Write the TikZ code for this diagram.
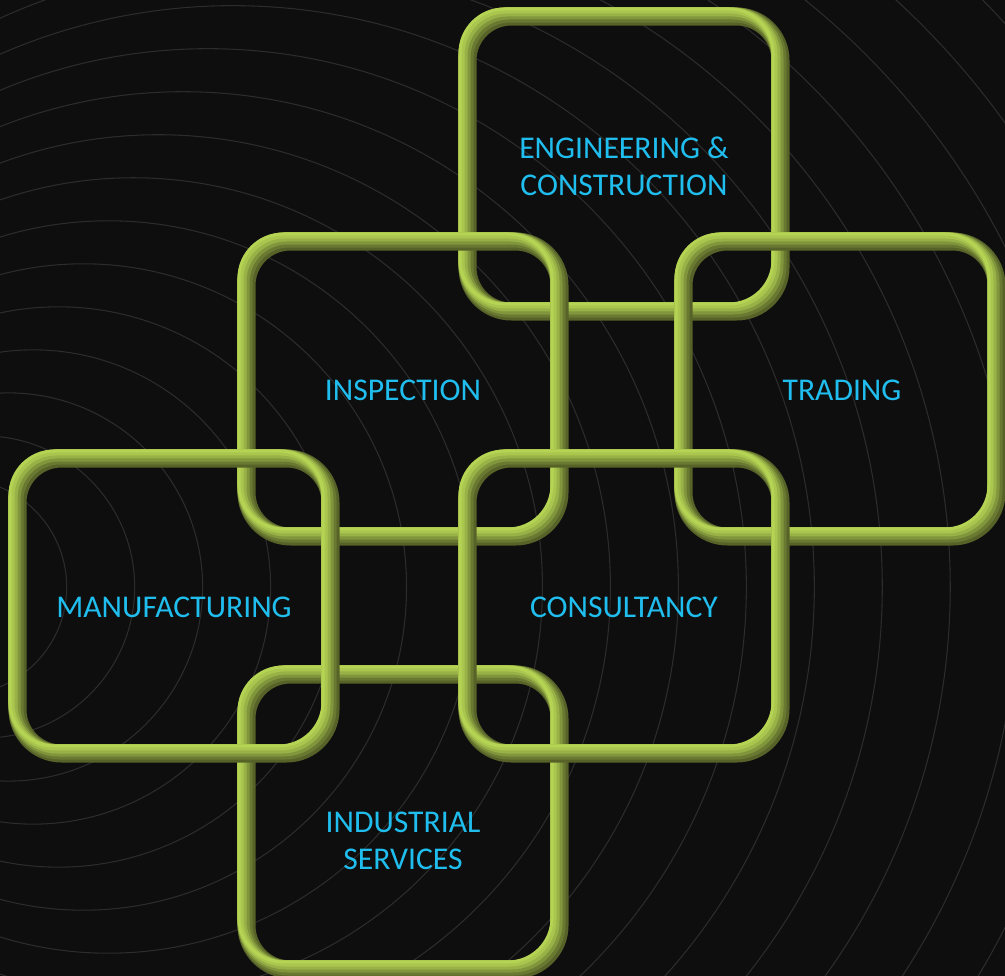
\documentclass[tikz,border=0pt]{standalone}
\usepackage{fontspec}
\setmainfont{Carlito}
\usepackage{tikz}
\usetikzlibrary{positioning}
\usepackage{xcolor}

\definecolor{bgdark}{RGB}{14,14,14}
\definecolor{ripple}{RGB}{44,44,44}
\definecolor{ringdark}{RGB}{86,98,40}
\definecolor{ringhigh}{RGB}{182,212,84}
\definecolor{labelblue}{RGB}{32,190,238}

\newcommand{\linkring}[2]{%
	\foreach \lw/\s/\p in {0.18cm/0/0, 0.15cm/1.5/20, 0.12cm/3/45, 0.09cm/4.5/70, 0.06cm/6/88, 0.03cm/7.5/100}
		\draw [color=ringhigh!\p!ringdark, line width=\lw, rounded corners=0.44cm, shift={(#1-\s,#2-\s)}] (-156.5,-147.5) rectangle (156.5,147.5);
}

\begin{document}
\begin{tikzpicture} [x=0.01cm, y=-0.01cm,
		ringtext/.style={text=labelblue, align=center, font=\fontsize{9}{10.6}\selectfont}]

						\fill [bgdark] (0,0) rectangle (1005,976);
						\useasboundingbox (0,0) rectangle (1005,976);
						\clip (0,0) rectangle (1005,976);

						\foreach \i in {0,...,20} {
							\pgfmathsetmacro{\rr}{(65+43*\i)/100}
							\pgfmathsetmacro{\cx}{0.58*(65+43*\i)-104}
							\draw [ripple, line width=0.3pt] (\cx,587) circle [radius=\rr cm];
						}

						% back to front
						\linkring{624}{164}
						\linkring{840}{389}
						\linkring{403}{389}
						\linkring{403}{822}
						\linkring{174}{606}
						\linkring{624}{606}

						\node [ringtext] (eng) at (624, 166) {ENGINEERING \&\\CONSTRUCTION};

						\node [ringtext] (trading) at (842, 390) {TRADING};

						\node [ringtext] (inspection) at (403, 390) {INSPECTION};

						\node [ringtext] (manufacturing) at (174, 607) {MANUFACTURING};

						\node [ringtext] (consultancy) at (624, 607) {CONSULTANCY};

						\node [ringtext] (industrial) at (403, 841) {INDUSTRIAL\\SERVICES};

					\end{tikzpicture}
\end{document}
